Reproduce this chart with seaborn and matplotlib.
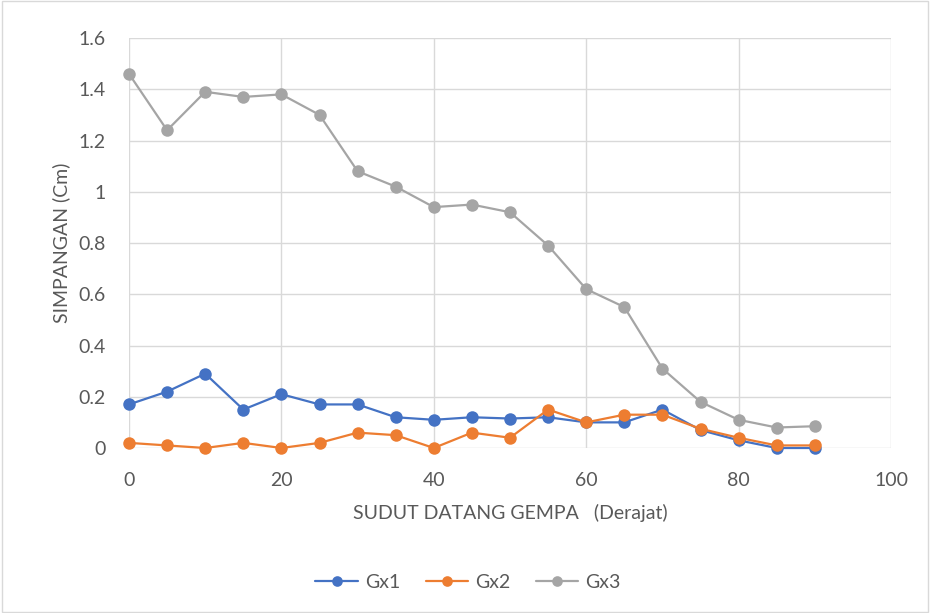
import matplotlib
matplotlib.use("Agg")
import matplotlib.pyplot as plt
import seaborn as sns
import pandas as pd
from matplotlib.patches import Rectangle

angles = [0, 5, 10, 15, 20, 25, 30, 35, 40, 45, 50, 55, 60, 65, 70, 75, 80, 85, 90]
gx1 = [0.17, 0.22, 0.29, 0.15, 0.21, 0.17, 0.17, 0.12, 0.11, 0.12, 0.115, 0.12, 0.10, 0.10, 0.15, 0.07, 0.03, 0.0, 0.0]
gx2 = [0.02, 0.01, 0.0, 0.02, 0.0, 0.02, 0.06, 0.05, 0.0, 0.06, 0.04, 0.15, 0.10, 0.13, 0.13, 0.075, 0.04, 0.01, 0.01]
gx3 = [1.46, 1.24, 1.39, 1.37, 1.38, 1.30, 1.08, 1.02, 0.94, 0.95, 0.92, 0.79, 0.62, 0.55, 0.31, 0.18, 0.11, 0.08, 0.085]
series_names = ["Gx1", "Gx2", "Gx3"]
colors = ["#4472C4", "#ED7D31", "#A5A5A5"]
x_ticks = [0, 20, 40, 60, 80, 100]
y_ticks = [0, 0.2, 0.4, 0.6, 0.8, 1.0, 1.2, 1.4, 1.6]
y_tick_labels = ["0", "0.2", "0.4", "0.6", "0.8", "1", "1.2", "1.4", "1.6"]

sns.set_style("white")
plt.rcParams["font.family"] = ["Lato", "DejaVu Sans"]

df = pd.DataFrame({
    "angle": angles * 3,
    "value": gx1 + gx2 + gx3,
    "series": sum([[n] * len(angles) for n in series_names], []),
})

fig = plt.figure(figsize=(9.3, 6.13), dpi=100)
ax = fig.add_axes([129 / 930, 1 - 448 / 613, (891 - 129) / 930, (448 - 38) / 613])

sns.lineplot(data=df, x="angle", y="value", hue="series", palette=colors,
             marker="o", markersize=9, markeredgewidth=0, linewidth=1.6,
             ax=ax, legend=True, clip_on=False)
for ln in ax.lines:
    ln.set_clip_on(False)

ax.set_xlim(0, 100)
ax.set_ylim(0, 1.6)
ax.set_xticks(x_ticks)
ax.set_yticks(y_ticks)
ax.set_yticklabels(y_tick_labels)
ax.grid(True, color="#D9D9D9", linewidth=1)
ax.set_axisbelow(True)
for s in ax.spines.values():
    s.set_visible(False)
ax.tick_params(axis="y", length=0, labelsize=14, colors="#595959", pad=17)
ax.tick_params(axis="x", length=0, labelsize=14, colors="#595959", pad=17)

ax.set_xlabel("SUDUT DATANG GEMPA   (Derajat)", fontsize=14, color="#595959", labelpad=11)
ax.set_ylabel("SIMPANGAN (Cm)", fontsize=14, color="#595959", labelpad=6)

handles, labels = ax.get_legend_handles_labels()
ax.legend(handles, labels, loc="center", bbox_to_anchor=(468 / 930, 1 - 582 / 613),
          bbox_transform=fig.transFigure, ncol=3, frameon=False, fontsize=14,
          labelcolor="#595959", handlelength=2.2, columnspacing=1.3,
          markerscale=0.85, handletextpad=0.35)

fig.patches.append(Rectangle((0.002, 0.002), 0.996, 0.996, transform=fig.transFigure,
                             fill=False, edgecolor="#D9D9D9", linewidth=1))

fig.savefig("out.png", dpi=100)
